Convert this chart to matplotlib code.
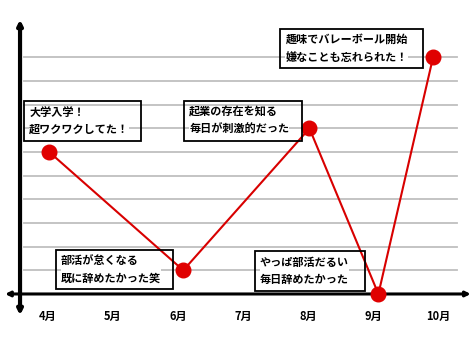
import matplotlib
matplotlib.use("Agg")
import numpy as np
from matplotlib import pyplot as plt
from matplotlib.patches import Rectangle

plt.rcParams['font.family'] = ['Noto Sans CJK JP', 'DejaVu Sans']

# data
months = ['4月', '5月', '6月', '7月', '8月', '9月', '10月']
point_x = [0.02, 2.08, 4.02, 5.08, 5.92]   # position along the month axis
point_y = [6, 1, 7, 0, 10]                  # level (grid units)
grid_levels = np.arange(1, 11)

notes = ['大学入学！\n超ワクワクしてた！',
         '部活が怠くなる\n既に辞めたかった笑',
         '起業の存在を知る\n毎日が刺激的だった',
         'やっぱ部活だるい\n毎日辞めたかった',
         '趣味でバレーボール開始\n嫌なことも忘れられた！']
# box extents (x0, x1, y0, y1) in data units
note_boxes = [(-0.37, 1.43, 6.47, 8.16),
              (0.12, 1.92, 0.21, 1.86),
              (2.09, 3.91, 6.47, 8.16),
              (3.18, 4.88, 0.13, 1.82),
              (3.57, 5.77, 9.56, 11.2)]

fig = plt.figure(figsize=(4.74, 3.55), dpi=100)
ax = fig.add_axes([0, 0, 1, 1])
ax.set_xlim(-0.738, 6.55)
ax.set_ylim(-2.58, 12.43)
ax.axis('off')

# gridlines
for g in grid_levels:
    ax.plot([-0.37, 6.29], [g, g], color='#bfbfbf', lw=1.3, zorder=1)

# axes with arrows
ax.annotate('', xy=(-0.43, 11.6), xytext=(-0.43, -0.9),
            arrowprops=dict(arrowstyle='<|-|>', lw=3, color='black',
                            mutation_scale=7, shrinkA=0, shrinkB=0), zorder=3)
ax.annotate('', xy=(6.5, 0), xytext=(-0.66, 0),
            arrowprops=dict(arrowstyle='<|-|>', lw=2.2, color='black',
                            mutation_scale=7, shrinkA=0, shrinkB=0), zorder=3)

for i, m in enumerate(months):
    ax.text(i, -0.97, m, ha='center', va='center', fontsize=8,
            fontweight='bold')

# the line
ax.plot(point_x, point_y, color='#d80000', lw=1.5, zorder=4)
ax.plot(point_x, point_y, 'o', color='#e00000', markersize=10.5, zorder=5)

# note boxes
for txt, (x0, x1, y0, y1) in zip(notes, note_boxes):
    ax.add_patch(Rectangle((x0, y0), x1 - x0, y1 - y0, fill=False,
                           edgecolor='black', lw=1.3, zorder=6))
    ax.text(x0 + 0.08, (y0 + y1) / 2, txt, ha='left', va='center',
            fontsize=8, fontweight='bold', linespacing=1.45, zorder=6,
            bbox=dict(facecolor='white', edgecolor='none', pad=0))

fig.savefig('out.png', dpi=100)
